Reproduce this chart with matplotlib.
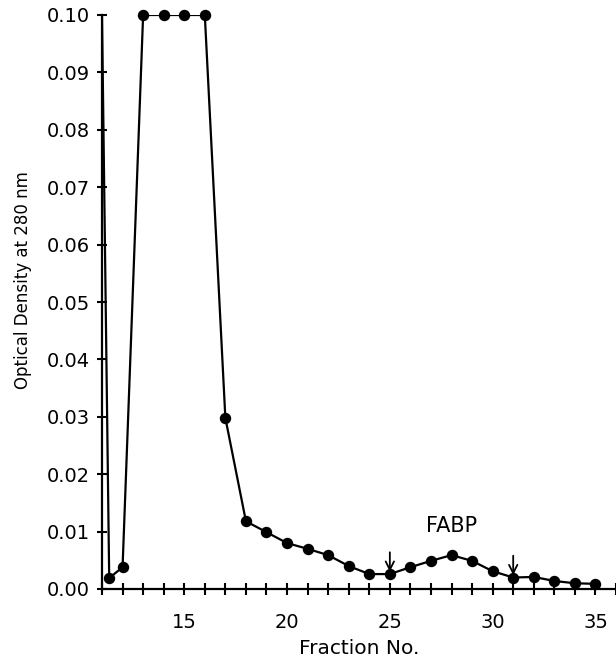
import matplotlib
matplotlib.use('Agg')
import matplotlib.pyplot as plt
from matplotlib import font_manager

# elution profile, fraction number vs OD280
fraction = [11.0, 11.35, 12, 13, 14, 15, 16, 17, 18, 19, 20, 21, 22, 23, 24, 25,
            26, 27, 28, 29, 30, 31, 32, 33, 34, 35]
od280 = [0.100, 0.0019, 0.0038, 0.100, 0.100, 0.100, 0.100, 0.0298, 0.0118, 0.0099,
         0.0080, 0.0070, 0.0059, 0.0040, 0.0026, 0.0026, 0.0038, 0.0049, 0.0059,
         0.0049, 0.0031, 0.0020, 0.0021, 0.0014, 0.0010, 0.0009]
arrow_fractions = [25, 31]
x_labels = [15, 20, 25, 30, 35]
y_ticks = [0.00, 0.01, 0.02, 0.03, 0.04, 0.05, 0.06, 0.07, 0.08, 0.09, 0.10]

available = {f.name for f in font_manager.fontManager.ttflist}
narrow = 'Liberation Sans Narrow' if 'Liberation Sans Narrow' in available else 'DejaVu Sans'

FIG_DPI = 100
fig = plt.figure(figsize=(6.16, 6.64), dpi=FIG_DPI)
ax = fig.add_axes([102/616, 1 - 589/664, 514/616, 574/664])

# line first (the first vertex comes from the clipped top-left), markers on real points
ax.plot(fraction, od280, color='k', lw=1.6, clip_on=True, zorder=2)
ax.plot(fraction[1:], od280[1:], 'o', color='k', ms=7.2, clip_on=False, zorder=3)

for f in arrow_fractions:
    yv = od280[fraction.index(f)]
    ax.annotate('', xy=(f, yv + 0.0004), xytext=(f, yv + 0.0038),
                arrowprops=dict(arrowstyle='->', color='k', lw=1.3,
                                mutation_scale=15, shrinkA=0, shrinkB=0))

ax.text(28, 0.011, 'FABP', ha='center', va='center', fontsize=15)

ax.set_xlim(11, 36)
ax.set_ylim(0, 0.10)

ax.set_xticks(range(11, 37))
ax.set_xticklabels([str(t) if t in x_labels else '' for t in range(11, 37)])
ax.set_yticks(y_ticks)
ax.set_yticklabels(['%.2f' % v for v in y_ticks])

ax.tick_params(axis='x', direction='inout', length=8, width=1.5, pad=13, labelsize=14)
ax.tick_params(axis='y', direction='inout', length=7, width=1.5, pad=5, labelsize=14)

ax.spines['top'].set_visible(False)
ax.spines['right'].set_visible(False)
ax.spines['left'].set_linewidth(1.6)
ax.spines['bottom'].set_linewidth(1.6)

ax.set_xlabel('Fraction No.', fontsize=14.5, labelpad=5)
ax.set_ylabel('Optical Density at 280 nm', fontsize=12, family=narrow)
ax.yaxis.set_label_coords(-70/514, (589 - 280) / 574)

fig.savefig('out.png', dpi=FIG_DPI)
